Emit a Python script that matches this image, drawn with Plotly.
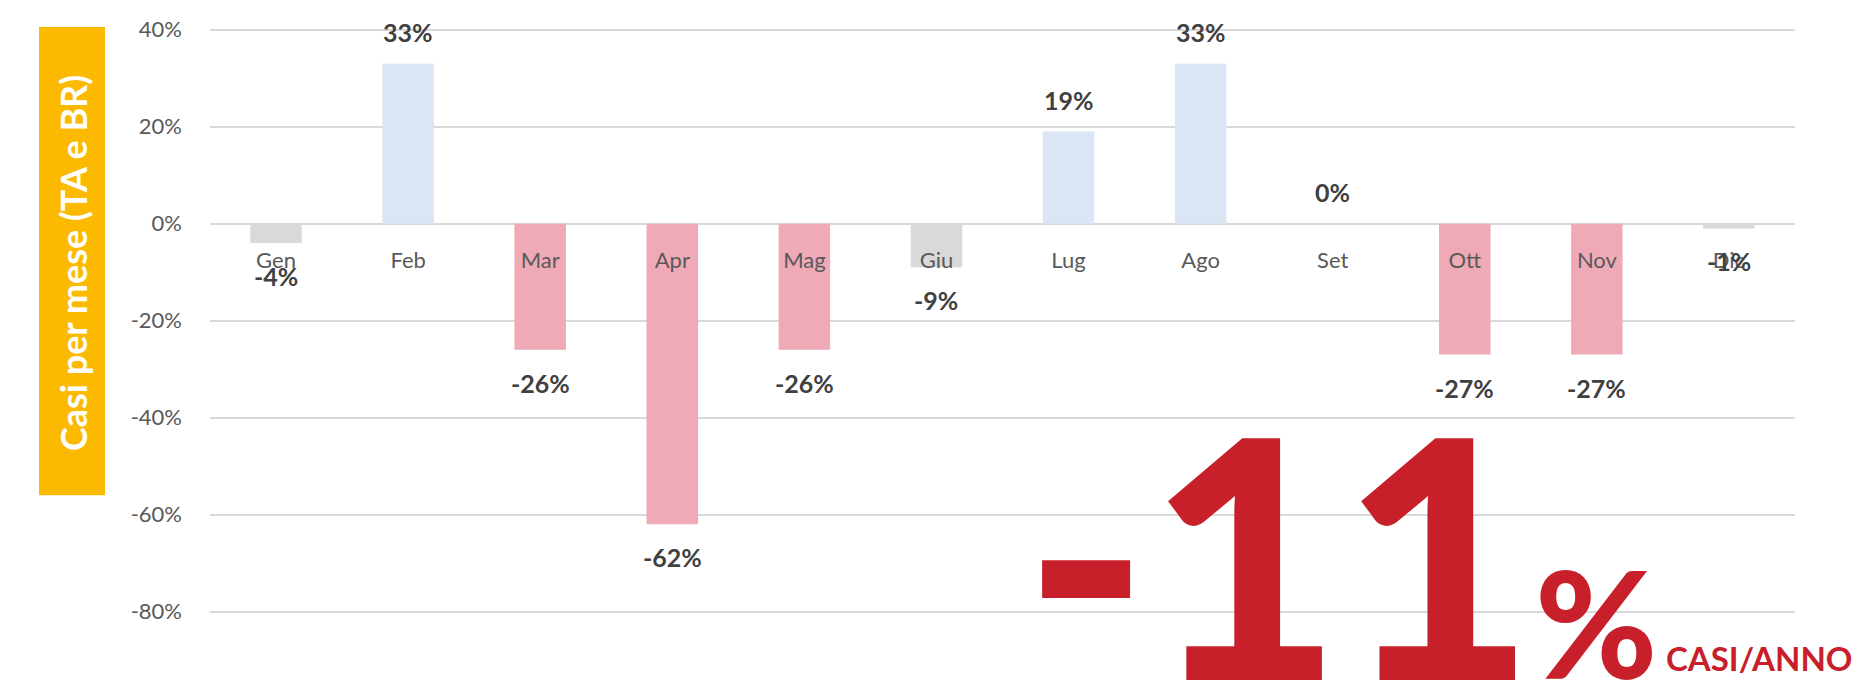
import plotly.graph_objects as go

# ---- data ----
months = ["Gen", "Feb", "Mar", "Apr", "Mag", "Giu", "Lug", "Ago", "Set", "Ott", "Nov", "Dic"]
values = [-0.04, 0.33, -0.26, -0.62, -0.26, -0.09, 0.19, 0.33, 0.0, -0.27, -0.27, -0.01]
bar_colors = ["#D9D9D9", "#DAE6F3", "#F0A9B6", "#F0A9B6", "#F0A9B6", "#D9D9D9",
              "#DAE6F3", "#DAE6F3", "#DAE6F3", "#F0A9B6", "#F0A9B6", "#D9D9D9"]
y_ticks = [0.4, 0.2, 0.0, -0.2, -0.4, -0.6, -0.8]
y_tick_labels = ["40%", "20%", "0%", "-20%", "-40%", "-60%", "-80%"]
y_title = "Casi per mese (TA e BR)"
big_value = "-11"
big_unit = "%"
big_caption = "CASI/ANNO"

# ---- layout geometry (page has an 8px body margin) ----
OFF = 8
PAGE_W, PAGE_H = 1865, 690
PLOT_L, PLOT_R, PLOT_T, PLOT_B = 210, 1795, 15, 660   # screen pixels
W, H = PAGE_W - OFF, PAGE_H - OFF
L, T = PLOT_L - OFF, PLOT_T - OFF
R, B = W + OFF - PLOT_R, H + OFF - PLOT_B
y_range = [-0.9, 0.42]


def px(x):
    return (x - PLOT_L) / (PLOT_R - PLOT_L)


def py(y):
    return (PLOT_B - y) / (PLOT_B - PLOT_T)


labels = [f"{round(v * 100):.0f}%" for v in values]

fig = go.Figure()
fig.add_trace(go.Bar(
    x=months, y=values, marker=dict(color=bar_colors, line=dict(width=0)),
    width=0.39, hoverinfo="x+y",
))

annotations = []
for m, v, t in zip(months, values, labels):
    annotations.append(dict(
        x=m, y=v, xref="x", yref="y", text=t, showarrow=False,
        yshift=32 if v >= 0 else -33, yanchor="middle",
        font=dict(family="Lato", size=25, color="#404040", weight="bold"),
    ))

# y-axis title on yellow box
annotations.append(dict(
    x=px(73), y=py(260), xref="paper", yref="paper", text=f"<b>{y_title}</b>",
    showarrow=False, textangle=-90, xanchor="center", yanchor="middle",
    font=dict(family="Lato", size=36, color="white"),
))

red = "#C8202A"
annotations.append(dict(
    x=px(1537), y=py(550), xref="paper", yref="paper", text=big_value,
    showarrow=False, xanchor="right", yanchor="middle",
    font=dict(family="Lato", size=333, color=red, weight=900),
))
annotations.append(dict(
    x=px(1533), y=py(622), xref="paper", yref="paper", text=big_unit,
    showarrow=False, xanchor="left", yanchor="middle",
    font=dict(family="Lato", size=148, color=red, weight=900),
))
annotations.append(dict(
    x=px(1664), y=py(658), xref="paper", yref="paper", text=f"<b>{big_caption}</b>",
    showarrow=False, xanchor="left", yanchor="middle",
    font=dict(family="Lato", size=33, color=red),
))

shapes = [dict(
    type="rect", xref="paper", yref="paper",
    x0=px(39), x1=px(105), y0=py(494), y1=py(22),
    fillcolor="#FBBA00", line=dict(width=0), layer="below",
)]

fig.update_layout(
    width=W, height=H,
    margin=dict(l=L, r=R, t=T, b=B, pad=0),
    paper_bgcolor="white", plot_bgcolor="white",
    showlegend=False,
    annotations=annotations,
    shapes=shapes,
    xaxis=dict(
        type="category", range=[-0.5, 11.5],
        anchor="free", position=(0 - y_range[0]) / (y_range[1] - y_range[0]),
        showline=False, showgrid=False, zeroline=False,
        ticks="", ticklabelstandoff=21,
        tickfont=dict(family="Lato", size=22, color="#595959"),
    ),
    yaxis=dict(
        range=y_range, tickvals=y_ticks, ticktext=y_tick_labels,
        showgrid=True, gridcolor="#D9D9D9", gridwidth=1.5,
        zeroline=True, zerolinecolor="#D9D9D9", zerolinewidth=1.5,
        showline=False, ticks="", ticklabelstandoff=27,
        tickfont=dict(family="Lato", size=22, color="#595959"),
    ),
)

fig.write_html("out.html")
